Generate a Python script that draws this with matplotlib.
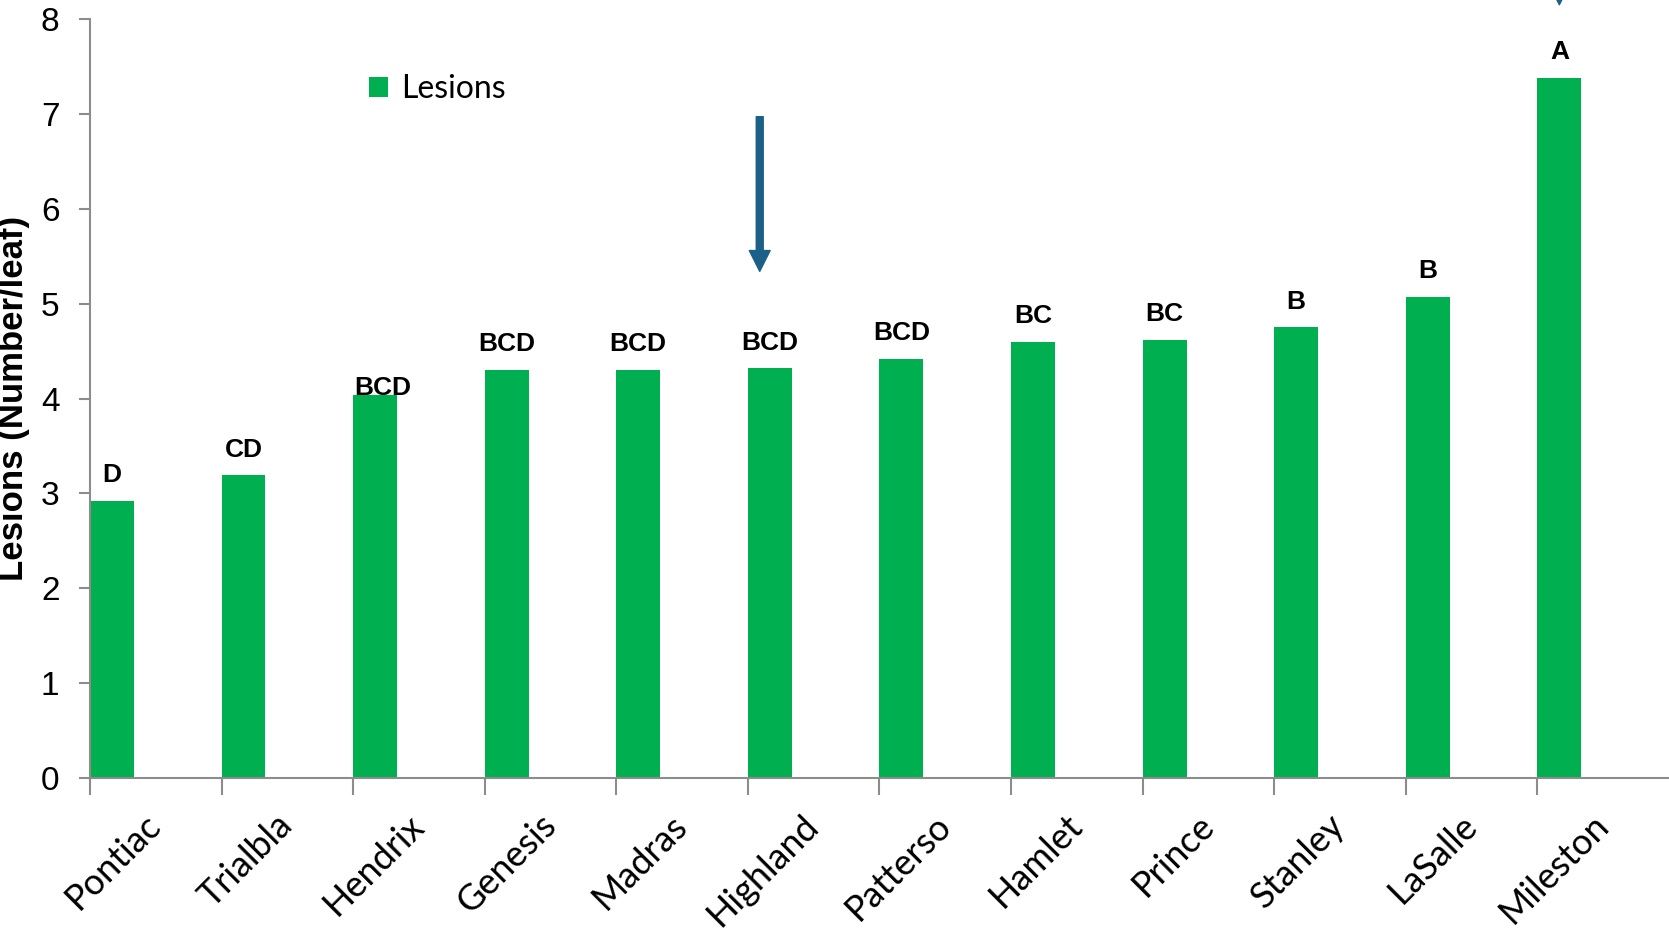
import matplotlib.pyplot as plt
import numpy as np

cultivars = ['Pontiac', 'Trialbla', 'Hendrix', 'Genesis', 'Madras', 'Highland',
             'Patterso', 'Hamlet', 'Prince', 'Stanley', 'LaSalle', 'Mileston']
lesions = [2.92, 3.19, 4.04, 4.30, 4.30, 4.32, 4.42, 4.60, 4.62, 4.75, 5.07, 7.38]
groups = ['D', 'CD', 'BCD', 'BCD', 'BCD', 'BCD', 'BCD', 'BC', 'BC', 'B', 'B', 'A']
marked = ['Highland', 'Mileston']

green = '#00B050'
arrow_col = '#1b6088'
axis_col = '#8c8c8c'

fig = plt.figure(figsize=(16.69, 9.31), dpi=100)
ax = fig.add_axes([0.0539, 0.1643, 0.9461, 0.8153])

x = np.arange(len(cultivars))
bw = 1 / 3
bars = ax.bar(x, lesions, width=bw, align='edge', color=green, label='Lesions')

# significance letters over each bar
for i, (v, g) in enumerate(zip(lesions, groups)):
    dy = 0.07 if cultivars[i] == 'Hendrix' else 0.27
    dx = 0.06 if cultivars[i] == 'Hendrix' else 0
    ax.text(i + bw / 2 + dx, v + dy, g, ha='center', va='center',
            fontsize=19, fontweight='bold', family='Liberation Sans')

# arrows pointing at the highlighted cultivars
for name in marked:
    i = cultivars.index(name)
    v = lesions[i]
    xa = i + 0.09 if name == 'Highland' else i + bw / 2
    tip = v + 1.02 if name == 'Highland' else v + 0.77
    ax.annotate('', xy=(xa, tip), xytext=(xa, tip + 1.63),
                arrowprops=dict(width=5, headwidth=15, headlength=15,
                                color=arrow_col, shrink=0),
                annotation_clip=False)

ax.set_xlim(0, len(cultivars))
ax.set_ylim(0, 8)
ax.set_yticks(range(9))
ax.set_yticklabels([str(t) for t in range(9)], fontsize=24, family='Liberation Sans')

ax.set_xticks(x)
ax.set_xticklabels([])
ax.set_xticks(x + 0.5, minor=True)
ax.set_xticklabels(cultivars, minor=True, rotation=45, ha='right', va='center',
                   rotation_mode='anchor', fontsize=26, family='Lato')
ax.tick_params(axis='x', which='major', length=12, width=1.5, color=axis_col)
ax.tick_params(axis='x', which='minor', length=0, pad=30)
ax.tick_params(axis='y', length=8, width=1.5, color=axis_col, pad=14)

for s in ['top', 'right']:
    ax.spines[s].set_visible(False)
for s in ['left', 'bottom']:
    ax.spines[s].set_color(axis_col)
    ax.spines[s].set_linewidth(1.5)

ax.set_ylabel('Lesions (Number/leaf)', fontsize=25, fontweight='bold',
              family='Liberation Sans')
ax.yaxis.set_label_coords(-0.038, 0.5)

leg = ax.legend(loc='upper left', bbox_to_anchor=(0.204, 0.951),
                bbox_transform=fig.transFigure, frameon=False,
                prop={'family': 'Lato', 'size': 23}, handlelength=0.6,
                handleheight=0.6, handletextpad=0.4)

fig.savefig('out.png', dpi=100)
